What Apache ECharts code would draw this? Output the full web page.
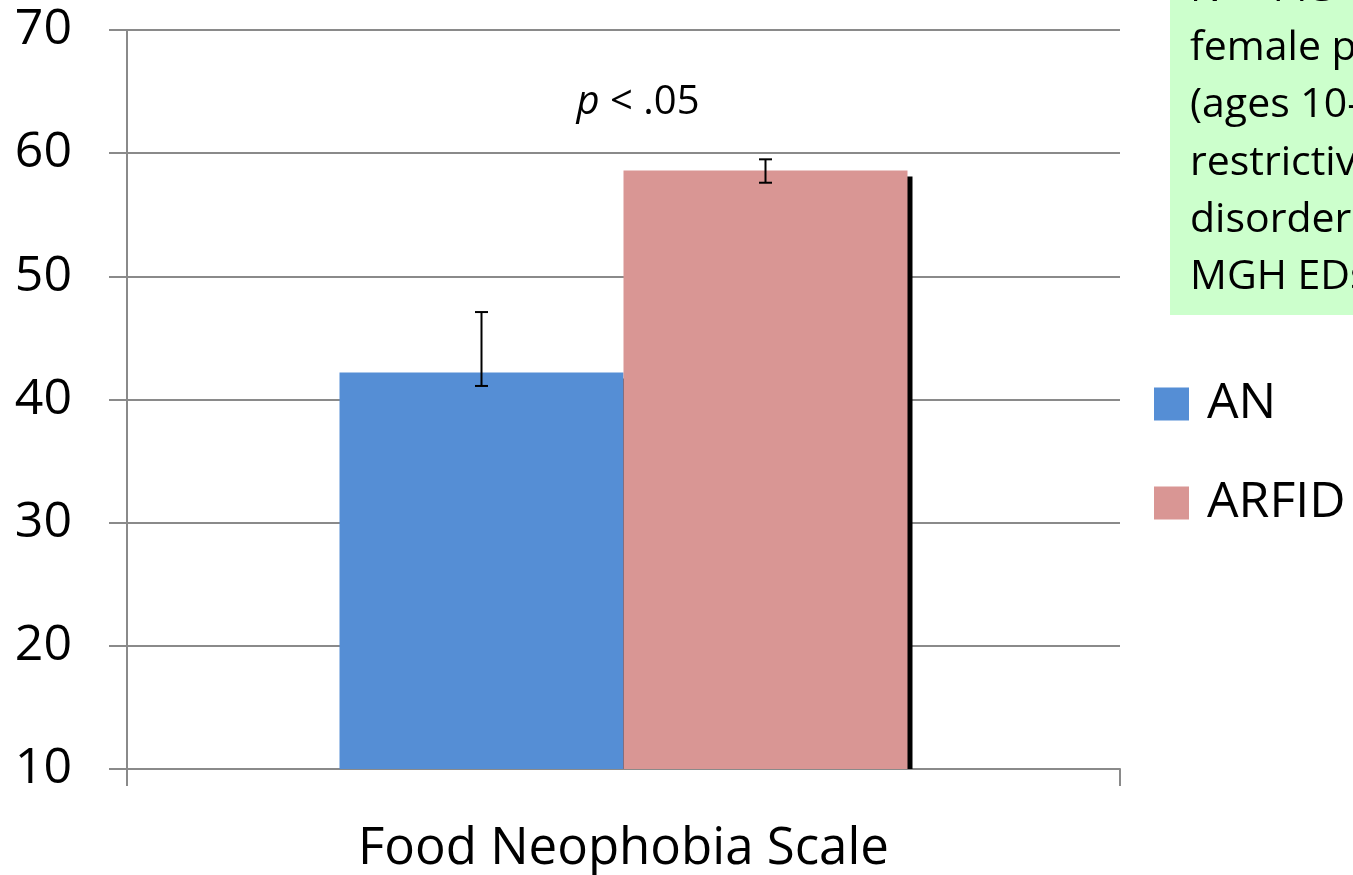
<!DOCTYPE html>
<html>
<head>
<meta charset="utf-8">
<title>Food Neophobia Scale: AN vs ARFID</title>
<script src="https://cdn.jsdelivr.net/npm/echarts@6/dist/echarts.min.js"></script>
<style>
  html, body { margin: 0; padding: 0; background: #ffffff; }
  #chart { width: 1353px; height: 875px; }
</style>
</head>
<body>
<div id="chart"></div>
<script>
// Group means and error-bar ends on the Food Neophobia Scale
const categories = ['Food Neophobia Scale'];
const seriesNames = ['AN', 'ARFID'];
const anMean = [42.2];
const anLow = [41.1];
const anHigh = [47.1];
const arfidMean = [58.6];
const arfidLow = [57.6];
const arfidHigh = [59.5];

// Value axis range
const yMin = 10;
const yMax = 70;
const yStep = 10;

// Sample note (runs past the right edge of the page)
const noteLines = ['N = 113', 'female patients', '(ages 10–', 'restrictive', 'disorders', 'MGH EDs'];
const significance = '< .05';

const FONT = '"Open Sans", "Liberation Sans", sans-serif';
const BAR_FRAC = 0.286;
const COLORS = ['#558ed5', '#d99694'];
const GRID_GRAY = '#8a8a8a';

const chart = echarts.init(document.getElementById('chart'), null, { renderer: 'canvas' });

// Error bar drawn at the centre of one bar of the pair (side = -1 left bar, +1 right bar)
function errorBar(side) {
  return function (params, api) {
    const c = api.value(0);
    const lo = api.coord([c, api.value(1)]);
    const hi = api.coord([c, api.value(2)]);
    const band = api.size([1, 0])[0];
    const x = lo[0] + side * band * BAR_FRAC / 2;
    const half = 6.5;
    const style = { stroke: '#000', lineWidth: 2 };
    return {
      type: 'group',
      children: [
        { type: 'line', shape: { x1: x, y1: hi[1], x2: x, y2: lo[1] }, style },
        { type: 'line', shape: { x1: x - half, y1: hi[1], x2: x + half, y2: hi[1] }, style },
        { type: 'line', shape: { x1: x - half, y1: lo[1], x2: x + half, y2: lo[1] }, style }
      ]
    };
  };
}

// Hard drop shadow behind a bar, offset down and to the right
function barShadow(side) {
  return function (params, api) {
    const c = api.value(0);
    const top = api.coord([c, api.value(1)]);
    const base = api.coord([c, yMin]);
    const band = api.size([1, 0])[0];
    const w = band * BAR_FRAC;
    const left = side < 0 ? top[0] - w : top[0];
    return {
      type: 'rect',
      shape: { x: left + 5, y: top[1] + 6, width: w, height: base[1] - top[1] - 6 },
      style: { fill: '#000' }
    };
  };
}

const option = {
  animation: false,
  backgroundColor: '#ffffff',
  textStyle: { fontFamily: FONT },
  grid: { left: 127, right: 233, top: 30, bottom: 106, containLabel: false },
  legend: {
    orient: 'vertical',
    left: 1154,
    top: 379,
    padding: 0,
    itemWidth: 35,
    itemHeight: 33,
    itemGap: 49,
    icon: 'rect',
    data: seriesNames,
    textStyle: { fontFamily: FONT, fontSize: 50, color: '#000', lineHeight: 50, padding: [0, 0, 0, 13] }
  },
  xAxis: {
    type: 'category',
    data: categories,
    boundaryGap: true,
    axisLine: { show: true, lineStyle: { color: GRID_GRAY, width: 2 } },
    axisTick: { show: true, length: 17, lineStyle: { color: GRID_GRAY, width: 2 } },
    axisLabel: { fontFamily: FONT, fontSize: 51, color: '#000', margin: 55, lineHeight: 50 },
    splitLine: { show: false }
  },
  yAxis: {
    type: 'value',
    min: yMin,
    max: yMax,
    interval: yStep,
    axisLine: { show: true, lineStyle: { color: GRID_GRAY, width: 2 } },
    axisTick: { show: true, length: 18, lineStyle: { color: GRID_GRAY, width: 2 } },
    axisLabel: { fontFamily: FONT, fontSize: 50, color: '#000', margin: 55 },
    splitLine: { show: true, lineStyle: { color: GRID_GRAY, width: 2 } }
  },
  series: [
    {
      type: 'custom',
      name: 'shadowAN',
      z: 1,
      silent: true,
      renderItem: barShadow(-1),
      encode: { x: 0, y: 1 },
      data: categories.map((c, i) => [i, anMean[i]])
    },
    {
      type: 'custom',
      name: 'shadowARFID',
      z: 1,
      silent: true,
      renderItem: barShadow(1),
      encode: { x: 0, y: 1 },
      data: categories.map((c, i) => [i, arfidMean[i]])
    },
    {
      type: 'bar',
      name: seriesNames[0],
      data: anMean,
      barWidth: (BAR_FRAC * 100) + '%',
      barGap: '0%',
      z: 2,
      itemStyle: { color: COLORS[0] }
    },
    {
      type: 'bar',
      name: seriesNames[1],
      data: arfidMean,
      barWidth: (BAR_FRAC * 100) + '%',
      barGap: '0%',
      z: 2,
      itemStyle: { color: COLORS[1] }
    },
    {
      type: 'custom',
      name: 'errAN',
      z: 3,
      silent: true,
      renderItem: errorBar(-1),
      encode: { x: 0, y: [1, 2] },
      data: categories.map((c, i) => [i, anLow[i], anHigh[i]])
    },
    {
      type: 'custom',
      name: 'errARFID',
      z: 3,
      silent: true,
      renderItem: errorBar(1),
      encode: { x: 0, y: [1, 2] },
      data: categories.map((c, i) => [i, arfidLow[i], arfidHigh[i]])
    }
  ],
  graphic: [
    {
      type: 'rect',
      left: 1170,
      top: -10,
      z: 10,
      shape: { width: 260, height: 325 },
      style: { fill: '#ccffcc' }
    },
    ...noteLines.map((t, i) => ({
      type: 'text',
      x: 1190,
      y: (i === 0 ? -11 : -9) + i * 57.3,
      z: 11,
      style: {
        text: t,
        font: '41px ' + FONT,
        fill: '#000',
        textVerticalAlign: 'middle',
        verticalAlign: 'middle'
      }
    })),
    {
      type: 'text',
      x: 638,
      y: 103,
      z: 11,
      style: {
        text: '{i|p} ' + significance,
        rich: {
          i: { fontStyle: 'italic', fontFamily: FONT, fontSize: 40, fill: '#000' }
        },
        font: '40px ' + FONT,
        fill: '#000',
        align: 'center',
        verticalAlign: 'middle'
      }
    }
  ]
};

chart.setOption(option);
</script>
</body>
</html>
